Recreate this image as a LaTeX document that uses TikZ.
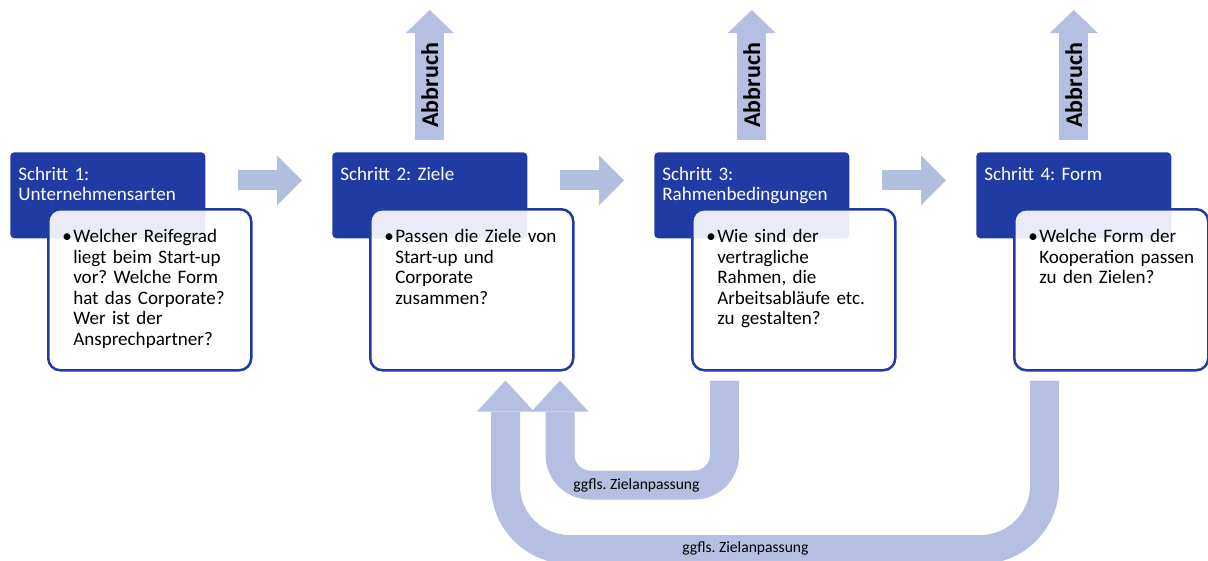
\documentclass[tikz,border=0pt]{standalone}
\usepackage{fontspec}
\setmainfont{Carlito}
\usetikzlibrary{arrows.meta}
\newdimen\pxu \pxu=0.75pt
\frenchspacing
\definecolor{stepblue}{RGB}{33,59,165}
\definecolor{flowgray}{RGB}{176,191,221}
\definecolor{loopblue}{RGB}{181,191,226}
\tikzset{
  stephead/.style={rectangle, rounded corners=4\pxu, fill=stepblue, minimum width=195\pxu,
    minimum height=86\pxu, inner sep=0pt, anchor=north west},
  stepbody/.style={rectangle, rounded corners=12\pxu, draw=stepblue, line width=2.5\pxu,
    fill=white, fill opacity=0.9, minimum width=203\pxu, minimum height=161\pxu,
    inner sep=0pt, anchor=north west},
  headtext/.style={text=white, font=\fontsize{14.3}{15.2}\selectfont, align=left,
    text width=185\pxu, inner sep=0pt, anchor=base west},
  bodytext/.style={text=black, font=\fontsize{14.3}{15.4}\selectfont, align=left,
    text width=180\pxu, inner sep=0pt, anchor=base west},
  nextflow/.style={draw=flowgray, line width=15pt,
    -{Triangle[length=18.75pt, width=37.5pt, line width=0pt]}},
  stopflow/.style={draw=loopblue, line width=21.75pt,
    -{Triangle[length=17.25pt, width=36pt, line width=0pt]}},
  backflow/.style={draw=loopblue, line width=21.75pt,
    -{Triangle[length=23.25pt, width=42.75pt, line width=0pt]}},
  stoplabel/.style={font=\bfseries\fontsize{18}{20}\selectfont, rotate=90, inner sep=0pt},
  backlabel/.style={font=\fontsize{11.7}{14}\selectfont, inner sep=0pt}
}
\newcommand{\bul}{\llap{•\hspace{1.5\pxu}}}
\begin{document}
\begin{tikzpicture}[x=\pxu, y=-\pxu]
  \useasboundingbox (0,0) rectangle (1208,561);

  % Kopfzeilen der vier Schritte
  \node[stephead] (h1) at (10,152) {};
  \node[stephead] (h2) at (332,152) {};
  \node[stephead] (h3) at (654,152) {};
  \node[stephead] (h4) at (976,152) {};

  % Inhaltskästen
  \node[stepbody] (b1) at (47,208) {};
  \node[stepbody] (b2) at (369,208) {};
  \node[stepbody] (b3) at (691,208) {};
  \node[stepbody, minimum width=194\pxu] (b4) at (1013,208) {};

  % Titel
  \node[headtext] (t1) at ([shift={(8,28)}]h1.north west) {Schritt 1:\\Unternehmensarten};
  \node[headtext] (t2) at ([shift={(8,28)}]h2.north west) {Schritt 2: Ziele};
  \node[headtext] (t3) at ([shift={(8,28)}]h3.north west) {Schritt 3:\\Rahmenbedingungen};
  \node[headtext] (t4) at ([shift={(8,28)}]h4.north west) {Schritt 4: Form};

  % Fragen
  \node[bodytext] (q1) at ([shift={(26,34.5)}]b1.north west)
    {\bul Welcher Reifegrad\\liegt beim Start-up\\vor? Welche Form\\hat das Corporate?\\Wer ist der\\Ansprechpartner?};
  \node[bodytext] (q2) at ([shift={(26,34.5)}]b2.north west)
    {\bul Passen die Ziele von\\Start-up und\\Corporate\\zusammen?};
  \node[bodytext] (q3) at ([shift={(26,34.5)}]b3.north west)
    {\bul Wie sind der\\vertragliche\\Rahmen, die\\Arbeitsabläufe etc.\\zu gestalten?};
  \node[bodytext] (q4) at ([shift={(26,34.5)}]b4.north west)
    {\bul Welche Form der\\Kooperation passen\\zu den Zielen?};

  % Pfeile zum nächsten Schritt
  \draw[nextflow] ([shift={(32,-15)}]h1.east) -- ([shift={(-30,-15)}]h2.west);
  \draw[nextflow] ([shift={(32,-15)}]h2.east) -- ([shift={(-30,-15)}]h3.west);
  \draw[nextflow] ([shift={(32,-15)}]h3.east) -- ([shift={(-30,-15)}]h4.west);

  % Abbruch nach oben
  \draw[stopflow] ([shift={(0,-12)}]h2.north) -- ([shift={(0,-142)}]h2.north) node[stoplabel, pos=0.42] {Abbruch};
  \draw[stopflow] ([shift={(0,-12)}]h3.north) -- ([shift={(0,-142)}]h3.north) node[stoplabel, pos=0.42] {Abbruch};
  \draw[stopflow] ([shift={(0,-12)}]h4.north) -- ([shift={(0,-142)}]h4.north) node[stoplabel, pos=0.42] {Abbruch};

  % Rückkopplung zu den Zielen
  \draw[backflow, rounded corners=22.5pt] ([shift={(33.5,9)}]b3.south west) -- ++(0,104.5)
    -| ([shift={(-14.5,9)}]b2.south east);
  \draw[backflow, rounded corners=48pt] ([shift={(31.5,9)}]b4.south west) -- ++(0,169)
    -| ([shift={(-69,9)}]b2.south east);
  \node[backlabel] (l1) at (636.5,485) {ggfls. Zielanpassung};
  \node[backlabel] (l2) at (745.5,548) {ggfls. Zielanpassung};
\end{tikzpicture}
\end{document}
